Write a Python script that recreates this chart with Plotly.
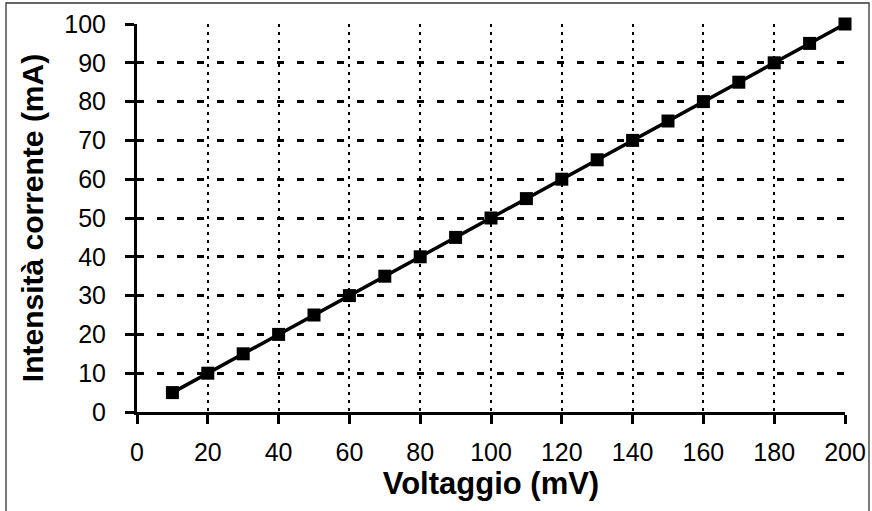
import plotly.graph_objects as go

voltaggio = [10, 20, 30, 40, 50, 60, 70, 80, 90, 100, 110, 120, 130, 140, 150, 160, 170, 180, 190, 200]
corrente = [5, 10, 15, 20, 25, 30, 35, 40, 45, 50, 55, 60, 65, 70, 75, 80, 85, 90, 95, 100]

x_ticks = list(range(0, 201, 20))
y_ticks = list(range(0, 101, 10))

FONT = "Liberation Sans, Arial, sans-serif"

fig = go.Figure()
fig.add_trace(go.Scatter(
    x=voltaggio, y=corrente, mode="lines+markers",
    line=dict(color="black", width=3.5),
    marker=dict(symbol="square", size=13, color="black"),
    showlegend=False, cliponaxis=False,
))

W, H = 872, 511
L, R, T, B = 137, 27, 24, 99
pw, ph = W - L - R, H - T - B

fig.update_layout(
    width=W, height=H,
    margin=dict(l=L, r=R, t=T, b=B, autoexpand=False),
    paper_bgcolor="white", plot_bgcolor="white",
    font=dict(family=FONT, color="black", size=25),
    xaxis=dict(
        range=[0, 200], tickvals=x_ticks, ticktext=[str(v) for v in x_ticks],
        showline=True, linecolor="black", linewidth=3,
        ticks="outside", ticklen=9, tickwidth=3, tickcolor="black",
        showgrid=True, gridcolor="black", gridwidth=2, griddash="3px,5px",
        zeroline=False, ticklabelstandoff=7, automargin=False,
        tickfont=dict(size=25, family=FONT),
        title=dict(text="<b>Voltaggio (mV)</b>", font=dict(size=31, family=FONT), standoff=6),
    ),
    yaxis=dict(
        range=[0, 100], tickvals=y_ticks, ticktext=[str(v) for v in y_ticks],
        showline=True, linecolor="black", linewidth=3,
        ticks="outside", ticklen=9, tickwidth=3, tickcolor="black",
        showgrid=True, gridcolor="black", gridwidth=3, griddash="7px,13px",
        zeroline=False, ticklabelstandoff=14, automargin=False,
        tickfont=dict(size=25, family=FONT),
        title=dict(text="<b>Intensità corrente (mA)</b>", font=dict(size=30, family=FONT), standoff=12),
    ),
)

fig.add_shape(
    type="rect", xref="paper", yref="paper",
    x0=(6 - L) / pw, x1=(869 - L) / pw,
    y0=-(515 - (H - B)) / ph, y1=1 + (T - 3) / ph,
    line=dict(color="#333333", width=1.3), fillcolor="rgba(0,0,0,0)", layer="below",
)

fig.write_html(
    "out.html",
    config={"displayModeBar": False},
    post_script="document.body.style.margin='0';document.body.style.overflow='hidden';",
)
